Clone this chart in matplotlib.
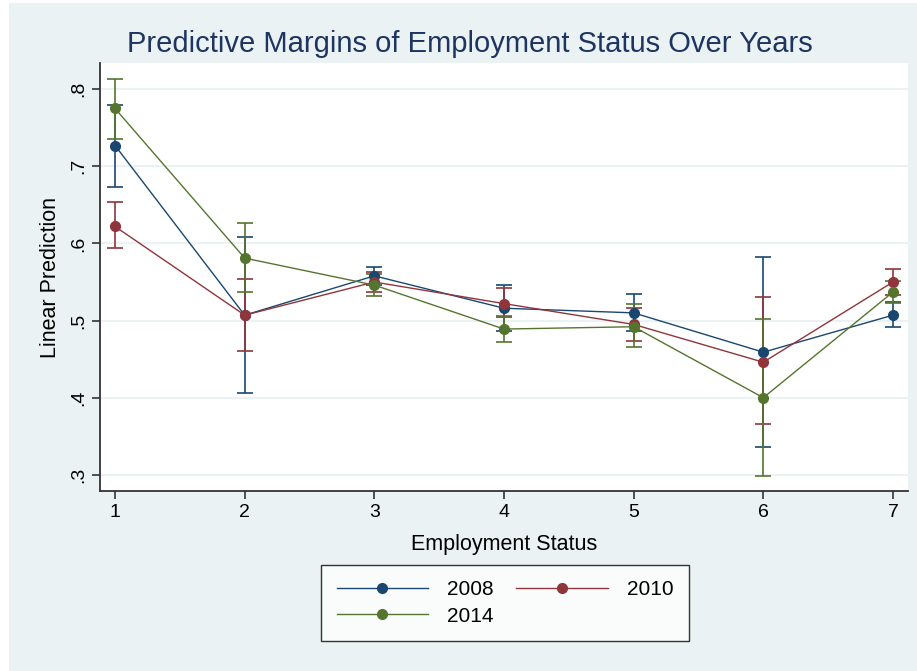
import matplotlib
matplotlib.use("Agg")
import matplotlib.pyplot as plt
from matplotlib.lines import Line2D
from matplotlib.patches import Rectangle

plt.rcParams["font.family"] = ["Liberation Sans", "DejaVu Sans"]

# datos
estatus = [1, 2, 3, 4, 5, 6, 7]

m2008 = [0.727, 0.507, 0.558, 0.516, 0.510, 0.459, 0.507]
lo2008 = [0.673, 0.406, 0.546, 0.487, 0.487, 0.336, 0.492]
hi2008 = [0.780, 0.608, 0.569, 0.546, 0.534, 0.582, 0.524]

m2010 = [0.622, 0.507, 0.550, 0.522, 0.495, 0.446, 0.550]
lo2010 = [0.594, 0.460, 0.537, 0.504, 0.474, 0.366, 0.533]
hi2010 = [0.654, 0.554, 0.563, 0.542, 0.516, 0.531, 0.567]

m2014 = [0.775, 0.581, 0.546, 0.489, 0.492, 0.400, 0.537]
lo2014 = [0.735, 0.537, 0.532, 0.472, 0.466, 0.298, 0.523]
hi2014 = [0.813, 0.626, 0.560, 0.506, 0.521, 0.502, 0.551]

series = [
    ("2008", m2008, lo2008, hi2008, "#1a476f"),
    ("2010", m2010, lo2010, hi2010, "#90353b"),
    ("2014", m2014, lo2014, hi2014, "#55752f"),
]

yticks = [0.3, 0.4, 0.5, 0.6, 0.7, 0.8]
ytick_labels = [".3", ".4", ".5", ".6", ".7", ".8"]

fondo = "#eaf2f3"

fig = plt.figure(figsize=(9.17, 6.71), dpi=100, facecolor="white")
fig.patches.append(Rectangle((9 / 917, 0), 1, 1 - 3 / 671, transform=fig.transFigure,
                             facecolor=fondo, edgecolor="none", zorder=-10))

ax = fig.add_axes([100 / 917, 1 - 491 / 671, 808 / 917, 428 / 671])
ax.set_facecolor("white")

manijas = {}
for nombre, m, lo, hi, color in series:
    err = [[a - b for a, b in zip(m, lo)], [c - a for a, c in zip(m, hi)]]
    ax.errorbar(estatus, m, yerr=err, color=color, lw=1.0, elinewidth=1.2,
                capsize=6, capthick=1.2, marker="o", markersize=7)
    manijas[nombre] = Line2D([], [], color=color, lw=1.0, marker="o", markersize=7)

ax.set_xlim(0.884, 7.116)
ax.set_ylim(0.279, 0.834)
ax.set_xticks(estatus)
ax.set_yticks(yticks)
ax.set_yticklabels(ytick_labels, rotation=90, va="center")
ax.tick_params(axis="both", labelsize=14, color="#333333", width=1.2, length=6)
ax.grid(axis="y", color=fondo, lw=1.5)
ax.set_axisbelow(True)
for lado in ["top", "right"]:
    ax.spines[lado].set_visible(False)
for lado in ["left", "bottom"]:
    ax.spines[lado].set_color("#333333")
    ax.spines[lado].set_linewidth(1.3)

ax.set_xlabel("Employment Status", fontsize=15.5, labelpad=9)
ax.set_ylabel("Linear Prediction", fontsize=15.5, labelpad=6)
fig.text(470 / 917, 1 - 44 / 671, "Predictive Margins of Employment Status Over Years",
         ha="center", va="center", fontsize=21, color="#1e3461")

# orden por columnas: 2008, 2014 | 2010
orden = ["2008", "2014", "2010"]
ley = fig.legend([manijas[k] for k in orden], orden, loc="center",
                 bbox_to_anchor=(505 / 917, 1 - 603 / 671), ncol=2,
                 fontsize=15, frameon=True, fancybox=False, edgecolor="black",
                 handlelength=4.4, columnspacing=1.1, handletextpad=0.9,
                 borderpad=0.75, labelspacing=0.35, borderaxespad=0)
ley.get_frame().set_linewidth(1.0)

fig.savefig("out.png", dpi=100, facecolor=fig.get_facecolor())
